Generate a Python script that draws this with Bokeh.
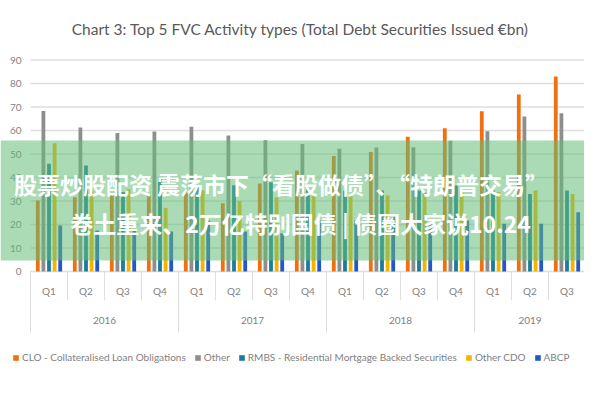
from bokeh.plotting import figure
from bokeh.models import Range1d, ColumnDataSource, BoxAnnotation, Legend, LegendItem, Label
from bokeh.core.properties import value
from bokeh.transform import dodge
from bokeh.embed import file_html
from bokeh.resources import INLINE

# ---------------- data ----------------
title_text = "Chart 3: Top 5 FVC Activity types (Total Debt Securities Issued €bn)"
years = ["2016", "2017", "2018", "2019"]
year_quarter_counts = [4, 4, 4, 3]
quarters = ["Q1", "Q2", "Q3", "Q4", "Q1", "Q2", "Q3", "Q4",
            "Q1", "Q2", "Q3", "Q4", "Q1", "Q2", "Q3"]
series_names = ["CLO - Collateralised Loan Obligations", "Other",
                "RMBS - Residential Mortgage Backed Securities", "Other CDO", "ABCP"]
clo = [30.2, 31.6, 32.3, 33.2, 34.5, 29.0, 37.4, 43.0, 49.2, 50.8, 57.3, 61.0, 68.2, 75.3, 83.0]
other = [68.3, 61.3, 58.9, 59.6, 61.6, 57.9, 55.9, 54.3, 52.2, 52.8, 52.9, 55.6, 59.7, 66.0, 67.3]
rmbs = [45.8, 45.1, 33.8, 40.0, 36.0, 36.7, 38.0, 35.0, 34.5, 34.5, 34.5, 36.6, 34.5, 33.0, 34.5]
other_cdo = [54.6, 34.5, 35.0, 27.0, 34.5, 30.0, 31.6, 32.3, 32.3, 32.3, 33.8, 33.8, 33.8, 34.5, 33.0]
abcp = [19.6, 17.4, 17.4, 17.0, 21.7, 17.0, 16.3, 21.7, 21.7, 23.1, 20.3, 21.7, 20.3, 20.3, 25.2]
y_ticks = [0, 10, 20, 30, 40, 50, 60, 70, 80, 90]
banner_line1 = "股票炒股配资 震荡市下“看股做债”、“特朗普交易”"
banner_line2 = "卷土重来、2万亿特别国债 | 债圈大家说10.24"

# ---------------- styles ----------------
colors = ["#F0700F", "#8E8E8E", "#1B7C9C", "#F5B400", "#2458C4"]
text_grey = "#7F7F7F"
grid_grey = "#DEDEDE"
font = "Lato"

W, H = 584, 384
PX_X = 37.0       # pixels per quarter
PX_Y = 2.35       # pixels per unit
X0_PX = 48.5      # pixel centre of first quarter
Y0_PX = 271.0     # pixel of value 0

def dx(px):
    return (px - X0_PX) / PX_X

def dy(py):
    return (Y0_PX - py) / PX_Y

p = figure(width=W, height=H, output_backend="svg", toolbar_location=None,
           x_range=Range1d(dx(0), dx(W)),
           y_range=Range1d(dy(H), dy(0)),
           min_border=0, outline_line_color=None)
p.xaxis.visible = False
p.yaxis.visible = False
p.xgrid.visible = False
p.ygrid.visible = False
p.background_fill_color = "white"
p.border_fill_color = "white"

n = len(quarters)
idx = list(range(n))
src = ColumnDataSource(dict(idx=idx, clo=clo, other=other, rmbs=rmbs, other_cdo=other_cdo, abcp=abcp))

# gridlines
p.segment(x0=-0.5, x1=n - 0.5, y0=y_ticks, y1=y_ticks, line_color=grid_grey, line_width=1.6)
# y tick labels
p.text(x=dx(21), y=y_ticks, text=[str(t) for t in y_ticks], text_align="right", text_baseline="middle",
       text_font=value(font), text_font_size="10px", text_color=text_grey)

# bars
bar_w = 3.8 / PX_X
cols = ["clo", "other", "rmbs", "other_cdo", "abcp"]
items = []
for k, (c, name, col) in enumerate(zip(cols, series_names, colors)):
    r = p.vbar(x=dodge("idx", (k - 2) * 5.6 / PX_X, range=p.x_range), top=c, bottom=0,
               width=bar_w, source=src, fill_color=col, line_color=None)
    items.append(LegendItem(label=name, renderers=[r]))

# category axis (quarters + years)
p.text(x=idx, y=dy(290), text=quarters, text_align="center", text_baseline="middle",
       text_font=value(font), text_font_size="10px", text_color=text_grey)
year_centers = []
bounds = [-0.5]
s = 0
for cnt in year_quarter_counts:
    year_centers.append(s + (cnt - 1) / 2)
    s += cnt
    bounds.append(s - 0.5)
p.text(x=year_centers, y=dy(320), text=years, text_align="center", text_baseline="middle",
       text_font=value(font), text_font_size="10px", text_color=text_grey)
q_seps = [i - 0.5 for i in range(1, n) if (i - 0.5) not in bounds]
p.segment(x0=q_seps, x1=q_seps, y0=0, y1=dy(300), line_color=grid_grey, line_width=1)
p.segment(x0=bounds, x1=bounds, y0=0, y1=dy(332), line_color=grid_grey, line_width=1)

# title
p.text(x=[dx(300)], y=[dy(28)], text=[title_text], text_align="center",
       text_baseline="middle", text_font=value(font), text_font_size="15.5px", text_color="#595959")

# legend
legend = Legend(items=items, orientation="horizontal", location=(12, H - 358 - 5),
                glyph_width=7, glyph_height=7, label_height=10, label_standoff=3, spacing=8,
                padding=0, margin=0, border_line_color=None, background_fill_alpha=0,
                label_text_font=font, label_text_font_size="10px", label_text_color=text_grey)
p.add_layout(legend, "center")

# watermark banner
banner = BoxAnnotation(top=dy(140), bottom=dy(260),
                       fill_color=(100, 190, 120), fill_alpha=0.55, line_color=None)
p.add_layout(banner)
for txt, xx, yy in [(banner_line1, W / 2, 183), (banner_line2, 300, 222)]:
    p.add_layout(Label(x=dx(xx), y=dy(yy), text=txt,
                       text_align="center", text_baseline="middle",
                       text_font="Noto Sans CJK SC", text_font_style="bold",
                       text_font_size="23px", text_color="white"))

open("out.html", "w").write(file_html(p, INLINE))
